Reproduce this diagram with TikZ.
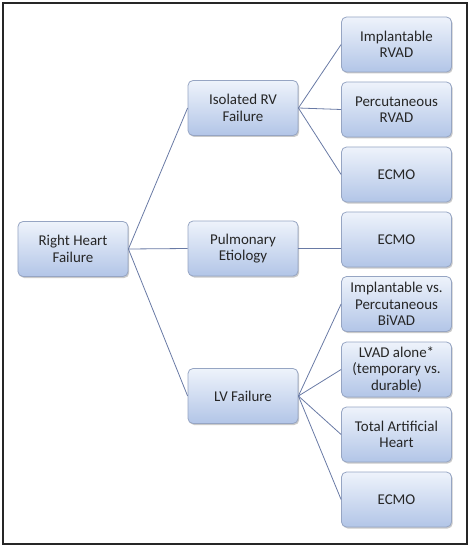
\documentclass[tikz,border=0pt]{standalone}
\usepackage{fontspec}
\setmainfont{Carlito}
\usetikzlibrary{shadows}
\definecolor{boxtop}{RGB}{238,243,251}
\definecolor{boxbot}{RGB}{178,197,231}
\definecolor{boxdraw}{RGB}{150,165,195}
\definecolor{linkcol}{RGB}{105,122,165}
\begin{document}
\begin{tikzpicture}[x=1bp,y=-1bp,
  box/.style={draw=boxdraw, line width=0.8bp, rounded corners=5bp,
    top color=boxtop, bottom color=boxbot,
    minimum width=110bp, minimum height=55bp, inner sep=1bp,
    align=center, text=black!85,
    font=\fontsize{15}{16.5}\selectfont,
    drop shadow={shadow xshift=1.2bp, shadow yshift=-1.5bp, fill=black!35, opacity=0.6}},
  link/.style={draw=linkcol, line width=0.8bp}]
\useasboundingbox (0,0) rectangle (469,547);
\draw[line width=1.5bp, black!85] (3,3) rectangle (467,544);
\node[box] (rhf) at (73,249) {Right Heart\\Failure};
\node[box] (irv) at (243,108) {Isolated RV\\Failure};
\node[box] (pe) at (243,248.5) {Pulmonary\\Etiology};
\node[box] (lv) at (243,396) {LV Failure};
\node[box] (r1) at (396.5,44.5) {Implantable\\RVAD};
\node[box] (r2) at (396.5,109.5) {Percutaneous\\RVAD};
\node[box] (r3) at (396.5,174.5) {ECMO};
\node[box] (p1) at (396.5,239.5) {ECMO};
\node[box] (l1) at (396.5,304) {Implantable vs.\\Percutaneous\\BiVAD};
\node[box] (l2) at (396.5,369.5) {LVAD alone*\\(temporary vs.\\durable)};
\node[box] (l3) at (396.5,434.5) {Total Artificial\\Heart};
\node[box] (l4) at (396.5,499.5) {ECMO};
\draw[link] (rhf.east) -- (irv.west);
\draw[link] (rhf.east) -- (pe.west);
\draw[link] (rhf.east) -- (lv.west);
\draw[link] (irv.east) -- (r1.west);
\draw[link] (irv.east) -- (r2.west);
\draw[link] (irv.east) -- (r3.west);
\draw[link] (pe.east) -- (pe.east -| p1.west);
\draw[link] (lv.east) -- (l1.west);
\draw[link] (lv.east) -- (l2.west);
\draw[link] (lv.east) -- (l3.west);
\draw[link] (lv.east) -- (l4.west);
\end{tikzpicture}
\end{document}
